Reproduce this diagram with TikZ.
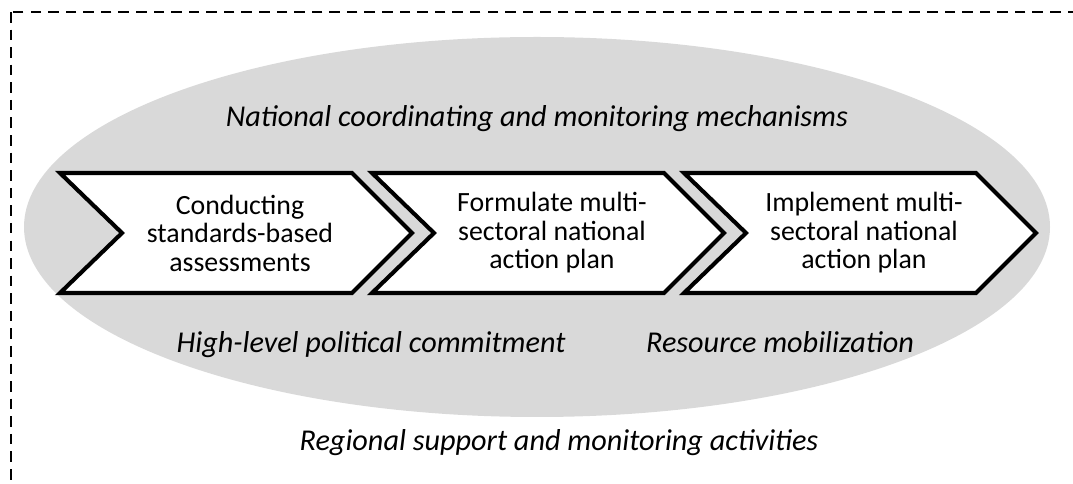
\documentclass[tikz,border=0pt]{standalone}
\usepackage{fontspec}
\setmainfont{Carlito}

\begin{document}
\begin{tikzpicture}[x=0.025cm,y=-0.025cm,
  ringtext/.style={anchor=base,font=\fontsize{21.5}{21.5}\selectfont\itshape,text=black},
  steptext/.style={align=center,font=\fontsize{19.8}{20.3}\selectfont,text=black},
  chevron/.style={draw=black,fill=white,line width=2.9pt,line join=miter}]
\useasboundingbox (0,0) rectangle (1073,484);
\clip (0,0) rectangle (1073,484);

% outer region
\draw[line width=1.4pt,dash pattern=on 7.5pt off 5pt] (11,12) rectangle (1100,520);

% national ring
\fill[black!15] (537,227) ellipse [x radius=513, y radius=190];

% the three steps
\foreach \x/\name/\txt in {60/assess/{Conducting\\standards-based\\assessments},
                          372/formulate/{Formulate multi-\\sectoral national\\action plan},
                          684/implement/{Implement multi-\\sectoral national\\action plan}}{
  \draw[chevron] (\x,173) -- ++(292,0) -- ++(60,60) -- ++(-60,60) -- ++(-292,0) -- ++(62,-60) -- cycle;
  \node[steptext] (\name) at (\x+180,233) {\txt};
}

\node[ringtext] (coord) at (537,127) {National coordinating and monitoring mechanisms};
\node[ringtext] (commit) at (371,353) {High-level political commitment};
\node[ringtext] (resource) at (780,353) {Resource mobilization};
\node[ringtext] (region) at (559,451) {Regional support and monitoring activities};
\end{tikzpicture}
\end{document}
